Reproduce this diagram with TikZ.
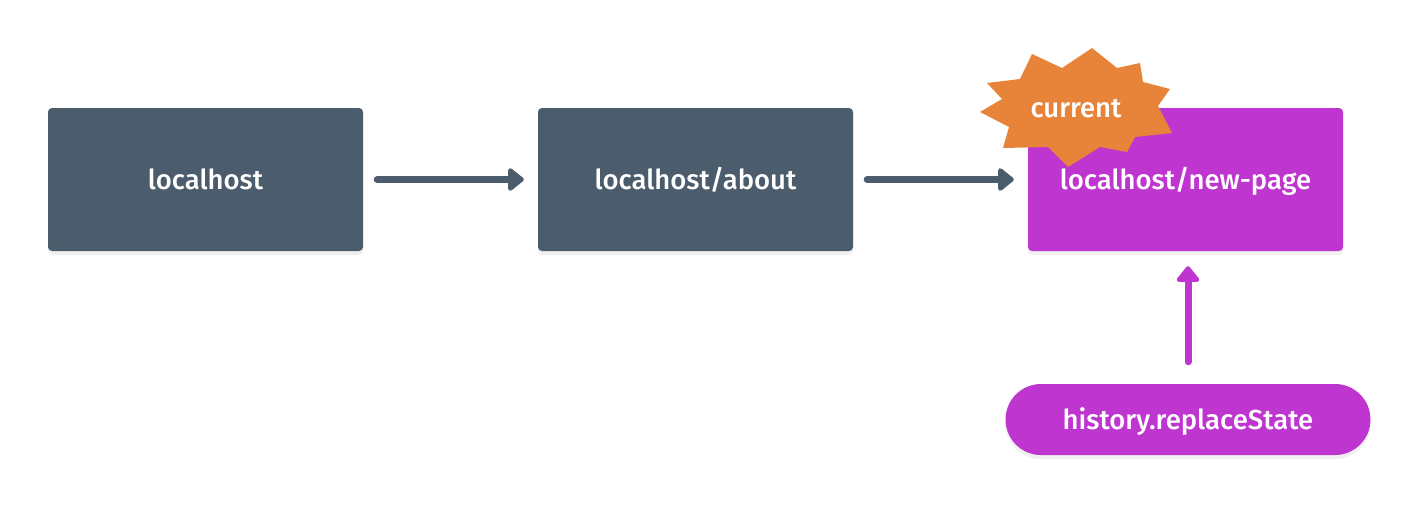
\documentclass[tikz,border=0pt]{standalone}
\usepackage{fontspec}
\setmainfont{Fira Sans}[UprightFont=* Medium]
\usetikzlibrary{arrows.meta,shadows,calc}
\definecolor{slate}{HTML}{4B5D6C}
\definecolor{violet}{HTML}{BE35CF}
\definecolor{burst}{HTML}{E8843A}
\tikzset{
  lbl/.style={text=white, font=\fontsize{27.5}{30}\selectfont},
  boxlbl/.style={lbl, text height=22pt, text depth=3pt},
  page/.style={boxlbl, rounded corners=4pt, minimum width=315pt, minimum height=143pt,
    drop shadow={opacity=0.12, shadow xshift=0pt, shadow yshift=-4pt}},
  flow/.style={line width=7pt, line cap=round, -{Triangle[length=17pt,width=26pt,round]}},
}
\begin{document}
\begin{tikzpicture}[x=1pt,y=-1pt]
\useasboundingbox (0,0) rectangle (1420,504);
\node[page, fill=slate] (b1) at (205.5,179.5) {localhost};
\node[page, fill=slate] (b2) at (695.5,179.5) {localhost/about};
\node[page, fill=violet] (b3) at (1185.5,179.5) {localhost/new-page};
\node[boxlbl, rounded corners=35.5pt, minimum width=365pt, minimum height=71pt, fill=violet,
  drop shadow={opacity=0.12, shadow xshift=0pt, shadow yshift=-4pt}] (p) at (1188,419.5) {history.replaceState};
\draw[flow, slate, shorten <=14pt, shorten >=14pt] (b1.east) -- (b2.west);
\draw[flow, slate, shorten <=14pt, shorten >=14pt] (b2.east) -- (b3.west);
\draw[flow, violet, shorten <=22pt, shorten >=15pt] (p.north) -- (p.north |- b3.south);
\fill[burst] (1032,54) -- (1062,68) -- (1092,48) -- (1117,68) -- (1140,63) -- (1143,82)
  -- (1170,89) -- (1158,106) -- (1172,133) -- (1135,137) -- (1127,152) -- (1100,147)
  -- (1068,167) -- (1048,147) -- (1003,148) -- (1009,127) -- (980,112) -- (1002,99)
  -- (987,83) -- (1020,79) -- cycle;
\node[lbl, anchor=base] (cur) at (1076,117) {current};
\end{tikzpicture}
\end{document}
